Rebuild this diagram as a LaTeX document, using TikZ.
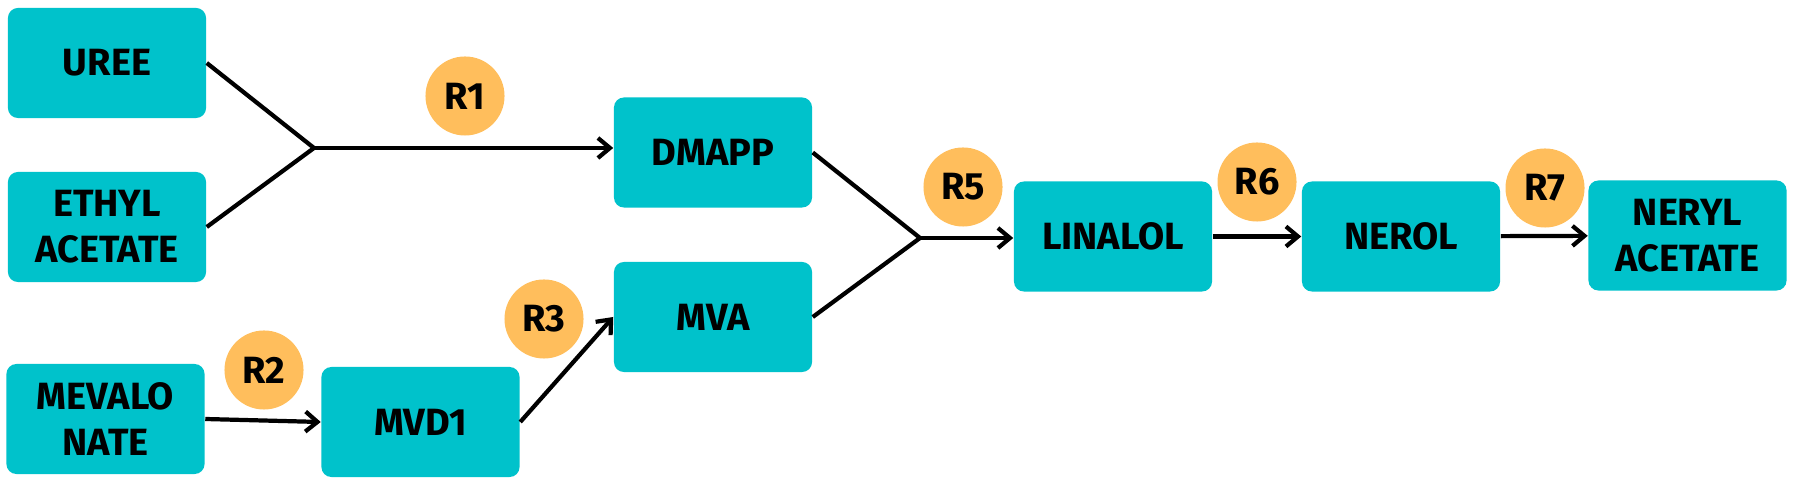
\documentclass[tikz,border=0pt]{standalone}
\usepackage{fontspec}
\setmainfont{Fira Sans}
\usepackage{tikz}
\usetikzlibrary{arrows.meta}
\definecolor{boxcyan}{RGB}{0,194,203}
\definecolor{rxnorange}{RGB}{255,190,92}
\tikzset{
  chem/.style={fill=boxcyan, rounded corners=1mm, minimum width=1.98cm, minimum height=1.1cm,
    inner sep=0pt, align=center, font=\fontsize{10.8}{13}\selectfont\bfseries}, % compound box
  rxn/.style={circle, fill=rxnorange, minimum size=0.79cm, inner sep=0pt,
    font=\fontsize{10.8}{13}\selectfont\bfseries},                              % reaction marker
  link/.style={line width=1.2pt},
  flowArrow/.style={-{Straight Barb[length=1.2mm,width=2mm]}, line width=1.2pt}
}
\begin{document}
\begin{tikzpicture}[x=0.01cm,y=-0.01cm]
  \useasboundingbox (0,0) rectangle (1795,489);
  % Compounds
  \node[chem] (uree)    at (107,63)     {UREE};
  \node[chem] (ethyl)   at (107,227)    {ETHYL\\ACETATE};
  \node[chem] (meva)    at (105.5,419)  {MEVALO\\NATE};
  \node[chem] (mvd)     at (420.5,422)  {MVD1};
  \node[chem] (dmapp)   at (713,152.5)  {DMAPP};
  \node[chem] (mva)     at (713,317)    {MVA};
  \node[chem] (linalol) at (1113,236.5) {LINALOL};
  \node[chem] (nerol)   at (1401,236.5) {NEROL};
  \node[chem] (neryl)   at (1687.5,235.5) {NERYL\\ACETATE};
  % Reaction markers
  \node[rxn] (r1) at (465,96)   {R1};
  \node[rxn] (r2) at (264,370)  {R2};
  \node[rxn] (r3) at (544,319)  {R3};
  \node[rxn] (r5) at (963,187)  {R5};
  \node[rxn] (r6) at (1257,182) {R6};
  \node[rxn] (r7) at (1545,188) {R7};
  % Junction points
  \coordinate (j1) at (314,148);
  \coordinate (j2) at (920,238);
  % Merging branches
  \draw[link] (uree.east) -- (j1);
  \draw[link] (ethyl.east) -- (j1);
  \draw[flowArrow] (j1) -- (j1 -| dmapp.west);
  \draw[link] (dmapp.east) -- (j2);
  \draw[link] (mva.east) -- (j2);
  \draw[flowArrow] (j2) -- (j2 -| linalol.west);
  % Single steps
  \draw[flowArrow] (meva.east) -- (mvd.west);
  \draw[flowArrow] (mvd.east) -- (mva.west);
  \draw[flowArrow] (linalol) -- (nerol);
  \draw[flowArrow] (nerol) -- (neryl);
\end{tikzpicture}
\end{document}
